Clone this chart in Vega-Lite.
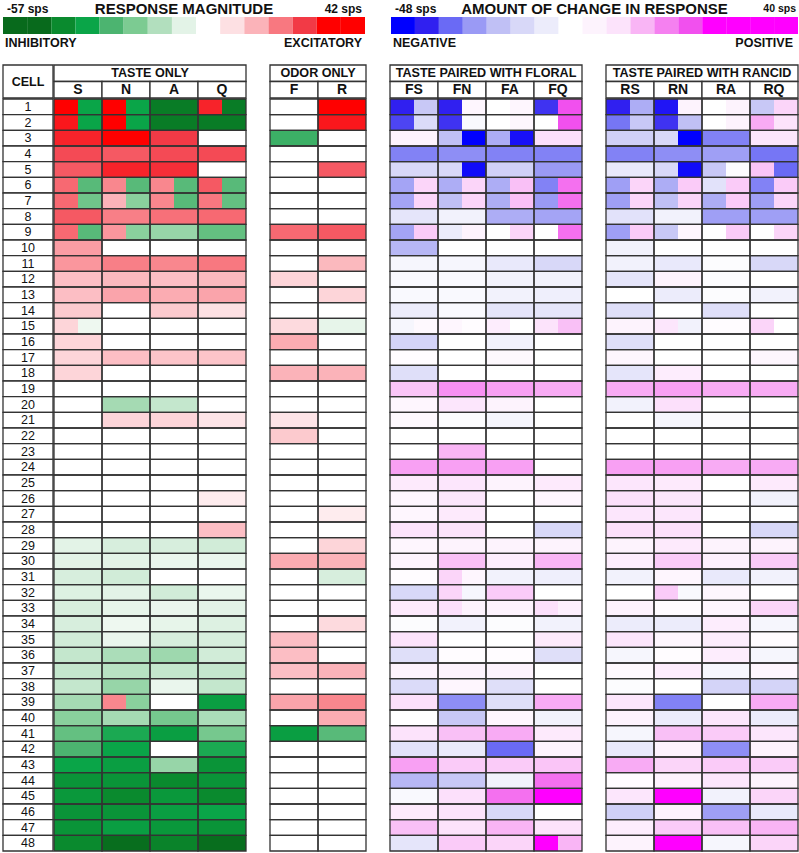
{
"$schema":"https://vega.github.io/schema/vega-lite/v6.json",
"padding":{"left":2,"top":0,"right":0,"bottom":0},
"background":"white",
"spacing":13,
"config":{"view":{"stroke":null},"font":"Liberation Sans","text":{"font":"Liberation Sans","fill":"#111"}},
"resolve":{"scale":{"color":"independent","xOffset":"independent","x":"independent","y":"independent"}},
"datasets":{
"solo":[
{"c":1,"k":"S","a":42,"b":-40},{"c":1,"k":"N","a":42,"b":-40},{"c":1,"k":"A","a":-52,"b":-52},{"c":1,"k":"Q","a":36,"b":-52},{"c":1,"k":"F","a":0,"b":0},{"c":1,"k":"R","a":42,"b":42},
{"c":2,"k":"S","a":38,"b":-40},{"c":2,"k":"N","a":42,"b":-40},{"c":2,"k":"A","a":-52,"b":-52},{"c":2,"k":"Q","a":-52,"b":-52},{"c":2,"k":"F","a":0,"b":0},{"c":2,"k":"R","a":38,"b":38},
{"c":3,"k":"S","a":36,"b":36},{"c":3,"k":"N","a":42,"b":42},{"c":3,"k":"A","a":32,"b":32},{"c":3,"k":"Q","a":0,"b":0},{"c":3,"k":"F","a":-34,"b":-34},{"c":3,"k":"R","a":0,"b":0},
{"c":4,"k":"S","a":30,"b":30},{"c":4,"k":"N","a":28,"b":28},{"c":4,"k":"A","a":30,"b":30},{"c":4,"k":"Q","a":30,"b":30},{"c":4,"k":"F","a":0,"b":0},{"c":4,"k":"R","a":0,"b":0},
{"c":5,"k":"S","a":28,"b":28},{"c":5,"k":"N","a":36,"b":36},{"c":5,"k":"A","a":34,"b":34},{"c":5,"k":"Q","a":0,"b":0},{"c":5,"k":"F","a":0,"b":0},{"c":5,"k":"R","a":28,"b":28},
{"c":6,"k":"S","a":26,"b":-30},{"c":6,"k":"N","a":22,"b":-30},{"c":6,"k":"A","a":22,"b":-30},{"c":6,"k":"Q","a":28,"b":-30},{"c":6,"k":"F","a":0,"b":0},{"c":6,"k":"R","a":0,"b":0},
{"c":7,"k":"S","a":26,"b":-26},{"c":7,"k":"N","a":16,"b":-22},{"c":7,"k":"A","a":22,"b":-30},{"c":7,"k":"Q","a":24,"b":-28},{"c":7,"k":"F","a":0,"b":0},{"c":7,"k":"R","a":0,"b":0},
{"c":8,"k":"S","a":28,"b":28},{"c":8,"k":"N","a":23,"b":23},{"c":8,"k":"A","a":25,"b":25},{"c":8,"k":"Q","a":26,"b":26},{"c":8,"k":"F","a":0,"b":0},{"c":8,"k":"R","a":0,"b":0},
{"c":9,"k":"S","a":26,"b":-30},{"c":9,"k":"N","a":20,"b":-22},{"c":9,"k":"A","a":-20,"b":-20},{"c":9,"k":"Q","a":-28,"b":-28},{"c":9,"k":"F","a":26,"b":26},{"c":9,"k":"R","a":28,"b":28},
{"c":10,"k":"S","a":19,"b":19},{"c":10,"k":"N","a":0,"b":0},{"c":10,"k":"A","a":0,"b":0},{"c":10,"k":"Q","a":0,"b":0},{"c":10,"k":"F","a":0,"b":0},{"c":10,"k":"R","a":0,"b":0},
{"c":11,"k":"S","a":20,"b":20},{"c":11,"k":"N","a":23,"b":23},{"c":11,"k":"A","a":22,"b":22},{"c":11,"k":"Q","a":24,"b":24},{"c":11,"k":"F","a":0,"b":0},{"c":11,"k":"R","a":15,"b":15},
{"c":12,"k":"S","a":14,"b":14},{"c":12,"k":"N","a":15,"b":15},{"c":12,"k":"A","a":14,"b":14},{"c":12,"k":"Q","a":15,"b":15},{"c":12,"k":"F","a":10,"b":10},{"c":12,"k":"R","a":0,"b":0},
{"c":13,"k":"S","a":14,"b":14},{"c":13,"k":"N","a":18,"b":18},{"c":13,"k":"A","a":17,"b":17},{"c":13,"k":"Q","a":18,"b":18},{"c":13,"k":"F","a":0,"b":0},{"c":13,"k":"R","a":10,"b":10},
{"c":14,"k":"S","a":12,"b":12},{"c":14,"k":"N","a":0,"b":0},{"c":14,"k":"A","a":12,"b":12},{"c":14,"k":"Q","a":8,"b":8},{"c":14,"k":"F","a":0,"b":0},{"c":14,"k":"R","a":0,"b":0},
{"c":15,"k":"S","a":10,"b":-5},{"c":15,"k":"N","a":0,"b":0},{"c":15,"k":"A","a":0,"b":0},{"c":15,"k":"Q","a":0,"b":0},{"c":15,"k":"F","a":9,"b":9},{"c":15,"k":"R","a":-7,"b":-7},
{"c":16,"k":"S","a":10,"b":10},{"c":16,"k":"N","a":0,"b":0},{"c":16,"k":"A","a":0,"b":0},{"c":16,"k":"Q","a":0,"b":0},{"c":16,"k":"F","a":17,"b":17},{"c":16,"k":"R","a":0,"b":0},
{"c":17,"k":"S","a":10,"b":10},{"c":17,"k":"N","a":14,"b":14},{"c":17,"k":"A","a":13,"b":13},{"c":17,"k":"Q","a":13,"b":13},{"c":17,"k":"F","a":0,"b":0},{"c":17,"k":"R","a":0,"b":0},
{"c":18,"k":"S","a":10,"b":10},{"c":18,"k":"N","a":0,"b":0},{"c":18,"k":"A","a":0,"b":0},{"c":18,"k":"Q","a":0,"b":0},{"c":18,"k":"F","a":16,"b":16},{"c":18,"k":"R","a":16,"b":16},
{"c":19,"k":"S","a":0,"b":0},{"c":19,"k":"N","a":0,"b":0},{"c":19,"k":"A","a":0,"b":0},{"c":19,"k":"Q","a":0,"b":0},{"c":19,"k":"F","a":0,"b":0},{"c":19,"k":"R","a":0,"b":0},
{"c":20,"k":"S","a":0,"b":0},{"c":20,"k":"N","a":-18,"b":-18},{"c":20,"k":"A","a":-13,"b":-13},{"c":20,"k":"Q","a":0,"b":0},{"c":20,"k":"F","a":0,"b":0},{"c":20,"k":"R","a":0,"b":0},
{"c":21,"k":"S","a":0,"b":0},{"c":21,"k":"N","a":10,"b":10},{"c":21,"k":"A","a":10,"b":10},{"c":21,"k":"Q","a":7,"b":7},{"c":21,"k":"F","a":7,"b":7},{"c":21,"k":"R","a":0,"b":0},
{"c":22,"k":"S","a":0,"b":0},{"c":22,"k":"N","a":0,"b":0},{"c":22,"k":"A","a":0,"b":0},{"c":22,"k":"Q","a":0,"b":0},{"c":22,"k":"F","a":12,"b":12},{"c":22,"k":"R","a":0,"b":0},
{"c":23,"k":"S","a":0,"b":0},{"c":23,"k":"N","a":0,"b":0},{"c":23,"k":"A","a":0,"b":0},{"c":23,"k":"Q","a":0,"b":0},{"c":23,"k":"F","a":0,"b":0},{"c":23,"k":"R","a":0,"b":0},
{"c":24,"k":"S","a":0,"b":0},{"c":24,"k":"N","a":0,"b":0},{"c":24,"k":"A","a":0,"b":0},{"c":24,"k":"Q","a":0,"b":0},{"c":24,"k":"F","a":0,"b":0},{"c":24,"k":"R","a":0,"b":0},
{"c":25,"k":"S","a":0,"b":0},{"c":25,"k":"N","a":0,"b":0},{"c":25,"k":"A","a":0,"b":0},{"c":25,"k":"Q","a":0,"b":0},{"c":25,"k":"F","a":0,"b":0},{"c":25,"k":"R","a":0,"b":0},
{"c":26,"k":"S","a":0,"b":0},{"c":26,"k":"N","a":0,"b":0},{"c":26,"k":"A","a":0,"b":0},{"c":26,"k":"Q","a":5,"b":5},{"c":26,"k":"F","a":0,"b":0},{"c":26,"k":"R","a":0,"b":0},
{"c":27,"k":"S","a":0,"b":0},{"c":27,"k":"N","a":0,"b":0},{"c":27,"k":"A","a":0,"b":0},{"c":27,"k":"Q","a":0,"b":0},{"c":27,"k":"F","a":0,"b":0},{"c":27,"k":"R","a":5,"b":5},
{"c":28,"k":"S","a":0,"b":0},{"c":28,"k":"N","a":0,"b":0},{"c":28,"k":"A","a":0,"b":0},{"c":28,"k":"Q","a":14,"b":14},{"c":28,"k":"F","a":0,"b":0},{"c":28,"k":"R","a":0,"b":0},
{"c":29,"k":"S","a":-8,"b":-8},{"c":29,"k":"N","a":-10,"b":-10},{"c":29,"k":"A","a":-10,"b":-10},{"c":29,"k":"Q","a":-11,"b":-11},{"c":29,"k":"F","a":0,"b":0},{"c":29,"k":"R","a":10,"b":10},
{"c":30,"k":"S","a":-8,"b":-8},{"c":30,"k":"N","a":-8,"b":-8},{"c":30,"k":"A","a":-6,"b":-6},{"c":30,"k":"Q","a":-6,"b":-6},{"c":30,"k":"F","a":17,"b":17},{"c":30,"k":"R","a":16,"b":16},
{"c":31,"k":"S","a":-10,"b":-10},{"c":31,"k":"N","a":-11,"b":-11},{"c":31,"k":"A","a":0,"b":0},{"c":31,"k":"Q","a":0,"b":0},{"c":31,"k":"F","a":0,"b":0},{"c":31,"k":"R","a":-10,"b":-10},
{"c":32,"k":"S","a":-9,"b":-9},{"c":32,"k":"N","a":-8,"b":-8},{"c":32,"k":"A","a":-11,"b":-11},{"c":32,"k":"Q","a":-6,"b":-6},{"c":32,"k":"F","a":0,"b":0},{"c":32,"k":"R","a":0,"b":0},
{"c":33,"k":"S","a":-10,"b":-10},{"c":33,"k":"N","a":-7,"b":-7},{"c":33,"k":"A","a":-6,"b":-6},{"c":33,"k":"Q","a":-8,"b":-8},{"c":33,"k":"F","a":0,"b":0},{"c":33,"k":"R","a":0,"b":0},
{"c":34,"k":"S","a":-10,"b":-10},{"c":34,"k":"N","a":-5,"b":-5},{"c":34,"k":"A","a":-7,"b":-7},{"c":34,"k":"Q","a":-9,"b":-9},{"c":34,"k":"F","a":0,"b":0},{"c":34,"k":"R","a":9,"b":9},
{"c":35,"k":"S","a":-11,"b":-11},{"c":35,"k":"N","a":-6,"b":-6},{"c":35,"k":"A","a":-10,"b":-10},{"c":35,"k":"Q","a":-10,"b":-10},{"c":35,"k":"F","a":14,"b":14},{"c":35,"k":"R","a":0,"b":0},
{"c":36,"k":"S","a":-13,"b":-13},{"c":36,"k":"N","a":-17,"b":-17},{"c":36,"k":"A","a":-19,"b":-19},{"c":36,"k":"Q","a":-11,"b":-11},{"c":36,"k":"F","a":14,"b":14},{"c":36,"k":"R","a":0,"b":0},
{"c":37,"k":"S","a":-13,"b":-13},{"c":37,"k":"N","a":-15,"b":-15},{"c":37,"k":"A","a":-13,"b":-13},{"c":37,"k":"Q","a":-13,"b":-13},{"c":37,"k":"F","a":14,"b":14},{"c":37,"k":"R","a":16,"b":16},
{"c":38,"k":"S","a":-13,"b":-13},{"c":38,"k":"N","a":-20,"b":-20},{"c":38,"k":"A","a":-6,"b":-6},{"c":38,"k":"Q","a":-13,"b":-13},{"c":38,"k":"F","a":0,"b":0},{"c":38,"k":"R","a":0,"b":0},
{"c":39,"k":"S","a":-18,"b":-18},{"c":39,"k":"N","a":22,"b":-22},{"c":39,"k":"A","a":0,"b":0},{"c":39,"k":"Q","a":-42,"b":-42},{"c":39,"k":"F","a":18,"b":18},{"c":39,"k":"R","a":22,"b":22},
{"c":40,"k":"S","a":-22,"b":-22},{"c":40,"k":"N","a":-18,"b":-18},{"c":40,"k":"A","a":-25,"b":-25},{"c":40,"k":"Q","a":-17,"b":-17},{"c":40,"k":"F","a":0,"b":0},{"c":40,"k":"R","a":17,"b":17},
{"c":41,"k":"S","a":-28,"b":-28},{"c":41,"k":"N","a":-38,"b":-38},{"c":41,"k":"A","a":-42,"b":-42},{"c":41,"k":"Q","a":-25,"b":-25},{"c":41,"k":"F","a":-42,"b":-42},{"c":41,"k":"R","a":-30,"b":-30},
{"c":42,"k":"S","a":-32,"b":-32},{"c":42,"k":"N","a":-40,"b":-40},{"c":42,"k":"A","a":0,"b":0},{"c":42,"k":"Q","a":-38,"b":-38},{"c":42,"k":"F","a":0,"b":0},{"c":42,"k":"R","a":0,"b":0},
{"c":43,"k":"S","a":-40,"b":-40},{"c":43,"k":"N","a":-42,"b":-42},{"c":43,"k":"A","a":-20,"b":-20},{"c":43,"k":"Q","a":-45,"b":-45},{"c":43,"k":"F","a":0,"b":0},{"c":43,"k":"R","a":0,"b":0},
{"c":44,"k":"S","a":-45,"b":-45},{"c":44,"k":"N","a":-45,"b":-45},{"c":44,"k":"A","a":-48,"b":-48},{"c":44,"k":"Q","a":-45,"b":-45},{"c":44,"k":"F","a":0,"b":0},{"c":44,"k":"R","a":0,"b":0},
{"c":45,"k":"S","a":-44,"b":-44},{"c":45,"k":"N","a":-48,"b":-48},{"c":45,"k":"A","a":-44,"b":-44},{"c":45,"k":"Q","a":-48,"b":-48},{"c":45,"k":"F","a":0,"b":0},{"c":45,"k":"R","a":0,"b":0},
{"c":46,"k":"S","a":-45,"b":-45},{"c":46,"k":"N","a":-45,"b":-45},{"c":46,"k":"A","a":-42,"b":-42},{"c":46,"k":"Q","a":-40,"b":-40},{"c":46,"k":"F","a":0,"b":0},{"c":46,"k":"R","a":0,"b":0},
{"c":47,"k":"S","a":-45,"b":-45},{"c":47,"k":"N","a":-42,"b":-42},{"c":47,"k":"A","a":-44,"b":-44},{"c":47,"k":"Q","a":-45,"b":-45},{"c":47,"k":"F","a":0,"b":0},{"c":47,"k":"R","a":0,"b":0},
{"c":48,"k":"S","a":-48,"b":-48},{"c":48,"k":"N","a":-56,"b":-56},{"c":48,"k":"A","a":-50,"b":-50},{"c":48,"k":"Q","a":-56,"b":-56},{"c":48,"k":"F","a":0,"b":0},{"c":48,"k":"R","a":0,"b":0}
],
"paired":[
{"c":1,"k":"FS","a":-42,"b":-16},{"c":1,"k":"FN","a":-42,"b":3},{"c":1,"k":"FA","a":0,"b":3},{"c":1,"k":"FQ","a":-40,"b":32},{"c":1,"k":"RS","a":-42,"b":-22},{"c":1,"k":"RN","a":-44,"b":4},{"c":1,"k":"RA","a":0,"b":4},{"c":1,"k":"RQ","a":-16,"b":12},
{"c":2,"k":"FS","a":-38,"b":-11},{"c":2,"k":"FN","a":-40,"b":-2},{"c":2,"k":"FA","a":0,"b":3},{"c":2,"k":"FQ","a":0,"b":32},{"c":2,"k":"RS","a":-32,"b":-16},{"c":2,"k":"RN","a":-40,"b":-18},{"c":2,"k":"RA","a":0,"b":4},{"c":2,"k":"RQ","a":20,"b":9},
{"c":3,"k":"FS","a":4,"b":4},{"c":3,"k":"FN","a":-18,"b":-48},{"c":3,"k":"FA","a":-22,"b":-45},{"c":3,"k":"FQ","a":10,"b":10},{"c":3,"k":"RS","a":-14,"b":-14},{"c":3,"k":"RN","a":-12,"b":-48},{"c":3,"k":"RA","a":-30,"b":-30},{"c":3,"k":"RQ","a":8,"b":8},
{"c":4,"k":"FS","a":-30,"b":-30},{"c":4,"k":"FN","a":-28,"b":-28},{"c":4,"k":"FA","a":-30,"b":-30},{"c":4,"k":"FQ","a":-30,"b":-30},{"c":4,"k":"RS","a":-30,"b":-30},{"c":4,"k":"RN","a":-28,"b":-28},{"c":4,"k":"RA","a":-25,"b":-25},{"c":4,"k":"RQ","a":-32,"b":-32},
{"c":5,"k":"FS","a":-12,"b":-12},{"c":5,"k":"FN","a":-12,"b":-46},{"c":5,"k":"FA","a":-14,"b":-14},{"c":5,"k":"FQ","a":-26,"b":-26},{"c":5,"k":"RS","a":-7,"b":-7},{"c":5,"k":"RN","a":-12,"b":-46},{"c":5,"k":"RA","a":-16,"b":-1},{"c":5,"k":"RQ","a":15,"b":-34},
{"c":6,"k":"FS","a":-24,"b":12},{"c":6,"k":"FN","a":-22,"b":12},{"c":6,"k":"FA","a":-22,"b":16},{"c":6,"k":"FQ","a":-30,"b":28},{"c":6,"k":"RS","a":-25,"b":12},{"c":6,"k":"RN","a":-22,"b":14},{"c":6,"k":"RA","a":-9,"b":14},{"c":6,"k":"RQ","a":-30,"b":14},
{"c":7,"k":"FS","a":-24,"b":12},{"c":7,"k":"FN","a":-18,"b":12},{"c":7,"k":"FA","a":-22,"b":16},{"c":7,"k":"FQ","a":-26,"b":28},{"c":7,"k":"RS","a":-25,"b":12},{"c":7,"k":"RN","a":-18,"b":12},{"c":7,"k":"RA","a":-22,"b":14},{"c":7,"k":"RQ","a":-25,"b":12},
{"c":8,"k":"FS","a":-8,"b":-8},{"c":8,"k":"FN","a":-4,"b":-4},{"c":8,"k":"FA","a":-22,"b":-22},{"c":8,"k":"FQ","a":-24,"b":-24},{"c":8,"k":"RS","a":-9,"b":-9},{"c":8,"k":"RN","a":-4,"b":-4},{"c":8,"k":"RA","a":-25,"b":-25},{"c":8,"k":"RQ","a":-25,"b":-25},
{"c":9,"k":"FS","a":-24,"b":14},{"c":9,"k":"FN","a":-6,"b":4},{"c":9,"k":"FA","a":0,"b":12},{"c":9,"k":"FQ","a":0,"b":28},{"c":9,"k":"RS","a":-25,"b":14},{"c":9,"k":"RN","a":-16,"b":3},{"c":9,"k":"RA","a":0,"b":14},{"c":9,"k":"RQ","a":0,"b":12},
{"c":10,"k":"FS","a":-20,"b":-20},{"c":10,"k":"FN","a":0,"b":0},{"c":10,"k":"FA","a":0,"b":0},{"c":10,"k":"FQ","a":0,"b":0},{"c":10,"k":"RS","a":-4,"b":-4},{"c":10,"k":"RN","a":0,"b":0},{"c":10,"k":"RA","a":0,"b":0},{"c":10,"k":"RQ","a":0,"b":0},
{"c":11,"k":"FS","a":-3,"b":-3},{"c":11,"k":"FN","a":-3,"b":-3},{"c":11,"k":"FA","a":-7,"b":-7},{"c":11,"k":"FQ","a":-12,"b":-12},{"c":11,"k":"RS","a":-4,"b":-4},{"c":11,"k":"RN","a":-7,"b":-7},{"c":11,"k":"RA","a":-1,"b":-1},{"c":11,"k":"RQ","a":-12,"b":-12},
{"c":12,"k":"FS","a":-2,"b":-2},{"c":12,"k":"FN","a":-2,"b":-2},{"c":12,"k":"FA","a":-4,"b":-4},{"c":12,"k":"FQ","a":-4,"b":-4},{"c":12,"k":"RS","a":-8,"b":-8},{"c":12,"k":"RN","a":4,"b":4},{"c":12,"k":"RA","a":-1,"b":-1},{"c":12,"k":"RQ","a":0,"b":0},
{"c":13,"k":"FS","a":-2,"b":-2},{"c":13,"k":"FN","a":-2,"b":-2},{"c":13,"k":"FA","a":-4,"b":-4},{"c":13,"k":"FQ","a":-5,"b":-5},{"c":13,"k":"RS","a":0,"b":0},{"c":13,"k":"RN","a":-6,"b":-6},{"c":13,"k":"RA","a":-1,"b":-1},{"c":13,"k":"RQ","a":-4,"b":-4},
{"c":14,"k":"FS","a":-6,"b":-6},{"c":14,"k":"FN","a":-2,"b":-2},{"c":14,"k":"FA","a":-8,"b":-8},{"c":14,"k":"FQ","a":-8,"b":-8},{"c":14,"k":"RS","a":-10,"b":-10},{"c":14,"k":"RN","a":0,"b":0},{"c":14,"k":"RA","a":-10,"b":-10},{"c":14,"k":"RQ","a":0,"b":0},
{"c":15,"k":"FS","a":-3,"b":2},{"c":15,"k":"FN","a":3,"b":1},{"c":15,"k":"FA","a":6,"b":0},{"c":15,"k":"FQ","a":9,"b":16},{"c":15,"k":"RS","a":4,"b":4},{"c":15,"k":"RN","a":8,"b":-4},{"c":15,"k":"RA","a":1,"b":1},{"c":15,"k":"RQ","a":12,"b":0},
{"c":16,"k":"FS","a":-13,"b":-13},{"c":16,"k":"FN","a":0,"b":0},{"c":16,"k":"FA","a":-4,"b":-4},{"c":16,"k":"FQ","a":0,"b":0},{"c":16,"k":"RS","a":-10,"b":-10},{"c":16,"k":"RN","a":0,"b":0},{"c":16,"k":"RA","a":0,"b":0},{"c":16,"k":"RQ","a":0,"b":0},
{"c":17,"k":"FS","a":1,"b":1},{"c":17,"k":"FN","a":0,"b":0},{"c":17,"k":"FA","a":2,"b":2},{"c":17,"k":"FQ","a":0,"b":0},{"c":17,"k":"RS","a":3,"b":3},{"c":17,"k":"RN","a":0,"b":0},{"c":17,"k":"RA","a":0,"b":0},{"c":17,"k":"RQ","a":3,"b":3},
{"c":18,"k":"FS","a":-10,"b":-10},{"c":18,"k":"FN","a":0,"b":0},{"c":18,"k":"FA","a":0,"b":0},{"c":18,"k":"FQ","a":0,"b":0},{"c":18,"k":"RS","a":-8,"b":-8},{"c":18,"k":"RN","a":6,"b":6},{"c":18,"k":"RA","a":0,"b":0},{"c":18,"k":"RQ","a":0,"b":0},
{"c":19,"k":"FS","a":15,"b":15},{"c":19,"k":"FN","a":24,"b":24},{"c":19,"k":"FA","a":22,"b":22},{"c":19,"k":"FQ","a":20,"b":20},{"c":19,"k":"RS","a":20,"b":20},{"c":19,"k":"RN","a":22,"b":22},{"c":19,"k":"RA","a":20,"b":20},{"c":19,"k":"RQ","a":20,"b":20},
{"c":20,"k":"FS","a":3,"b":3},{"c":20,"k":"FN","a":8,"b":8},{"c":20,"k":"FA","a":4,"b":4},{"c":20,"k":"FQ","a":0,"b":0},{"c":20,"k":"RS","a":-4,"b":-4},{"c":20,"k":"RN","a":10,"b":10},{"c":20,"k":"RA","a":0,"b":0},{"c":20,"k":"RQ","a":0,"b":0},
{"c":21,"k":"FS","a":2,"b":2},{"c":21,"k":"FN","a":-1,"b":-1},{"c":21,"k":"FA","a":-3,"b":-3},{"c":21,"k":"FQ","a":0,"b":0},{"c":21,"k":"RS","a":0,"b":0},{"c":21,"k":"RN","a":-3,"b":-3},{"c":21,"k":"RA","a":-1,"b":-1},{"c":21,"k":"RQ","a":0,"b":0},
{"c":22,"k":"FS","a":0,"b":0},{"c":22,"k":"FN","a":0,"b":0},{"c":22,"k":"FA","a":0,"b":0},{"c":22,"k":"FQ","a":0,"b":0},{"c":22,"k":"RS","a":0,"b":0},{"c":22,"k":"RN","a":0,"b":0},{"c":22,"k":"RA","a":0,"b":0},{"c":22,"k":"RQ","a":0,"b":0},
{"c":23,"k":"FS","a":0,"b":0},{"c":23,"k":"FN","a":18,"b":18},{"c":23,"k":"FA","a":0,"b":0},{"c":23,"k":"FQ","a":0,"b":0},{"c":23,"k":"RS","a":0,"b":0},{"c":23,"k":"RN","a":0,"b":0},{"c":23,"k":"RA","a":0,"b":0},{"c":23,"k":"RQ","a":0,"b":0},
{"c":24,"k":"FS","a":22,"b":22},{"c":24,"k":"FN","a":22,"b":22},{"c":24,"k":"FA","a":22,"b":22},{"c":24,"k":"FQ","a":0,"b":0},{"c":24,"k":"RS","a":22,"b":22},{"c":24,"k":"RN","a":22,"b":22},{"c":24,"k":"RA","a":20,"b":20},{"c":24,"k":"RQ","a":20,"b":20},
{"c":25,"k":"FS","a":7,"b":7},{"c":25,"k":"FN","a":8,"b":8},{"c":25,"k":"FA","a":4,"b":4},{"c":25,"k":"FQ","a":7,"b":7},{"c":25,"k":"RS","a":8,"b":8},{"c":25,"k":"RN","a":7,"b":7},{"c":25,"k":"RA","a":0,"b":0},{"c":25,"k":"RQ","a":7,"b":7},
{"c":26,"k":"FS","a":3,"b":3},{"c":26,"k":"FN","a":8,"b":8},{"c":26,"k":"FA","a":0,"b":0},{"c":26,"k":"FQ","a":3,"b":3},{"c":26,"k":"RS","a":10,"b":10},{"c":26,"k":"RN","a":8,"b":8},{"c":26,"k":"RA","a":0,"b":0},{"c":26,"k":"RQ","a":-4,"b":-4},
{"c":27,"k":"FS","a":3,"b":3},{"c":27,"k":"FN","a":7,"b":7},{"c":27,"k":"FA","a":0,"b":0},{"c":27,"k":"FQ","a":0,"b":0},{"c":27,"k":"RS","a":8,"b":8},{"c":27,"k":"RN","a":8,"b":8},{"c":27,"k":"RA","a":0,"b":0},{"c":27,"k":"RQ","a":0,"b":0},
{"c":28,"k":"FS","a":9,"b":9},{"c":28,"k":"FN","a":9,"b":9},{"c":28,"k":"FA","a":0,"b":0},{"c":28,"k":"FQ","a":-12,"b":-12},{"c":28,"k":"RS","a":10,"b":10},{"c":28,"k":"RN","a":10,"b":10},{"c":28,"k":"RA","a":0,"b":0},{"c":28,"k":"RQ","a":-12,"b":-12},
{"c":29,"k":"FS","a":3,"b":3},{"c":29,"k":"FN","a":4,"b":4},{"c":29,"k":"FA","a":4,"b":4},{"c":29,"k":"FQ","a":4,"b":4},{"c":29,"k":"RS","a":4,"b":4},{"c":29,"k":"RN","a":7,"b":7},{"c":29,"k":"RA","a":4,"b":4},{"c":29,"k":"RQ","a":4,"b":4},
{"c":30,"k":"FS","a":4,"b":4},{"c":30,"k":"FN","a":16,"b":16},{"c":30,"k":"FA","a":6,"b":6},{"c":30,"k":"FQ","a":18,"b":18},{"c":30,"k":"RS","a":6,"b":6},{"c":30,"k":"RN","a":14,"b":14},{"c":30,"k":"RA","a":5,"b":5},{"c":30,"k":"RQ","a":14,"b":14},
{"c":31,"k":"FS","a":1,"b":1},{"c":31,"k":"FN","a":12,"b":3},{"c":31,"k":"FA","a":-4,"b":-4},{"c":31,"k":"FQ","a":-5,"b":-5},{"c":31,"k":"RS","a":-4,"b":-4},{"c":31,"k":"RN","a":3,"b":3},{"c":31,"k":"RA","a":-7,"b":-7},{"c":31,"k":"RQ","a":-4,"b":-4},
{"c":32,"k":"FS","a":-12,"b":-12},{"c":32,"k":"FN","a":12,"b":-3},{"c":32,"k":"FA","a":14,"b":14},{"c":32,"k":"FQ","a":0,"b":0},{"c":32,"k":"RS","a":0,"b":0},{"c":32,"k":"RN","a":14,"b":-2},{"c":32,"k":"RA","a":3,"b":3},{"c":32,"k":"RQ","a":0,"b":0},
{"c":33,"k":"FS","a":7,"b":7},{"c":33,"k":"FN","a":10,"b":4},{"c":33,"k":"FA","a":4,"b":4},{"c":33,"k":"FQ","a":10,"b":5},{"c":33,"k":"RS","a":4,"b":4},{"c":33,"k":"RN","a":1,"b":1},{"c":33,"k":"RA","a":3,"b":3},{"c":33,"k":"RQ","a":12,"b":12},
{"c":34,"k":"FS","a":-1,"b":-1},{"c":34,"k":"FN","a":-4,"b":-4},{"c":34,"k":"FA","a":-1,"b":-1},{"c":34,"k":"FQ","a":-4,"b":-4},{"c":34,"k":"RS","a":-6,"b":-6},{"c":34,"k":"RN","a":-6,"b":-6},{"c":34,"k":"RA","a":6,"b":6},{"c":34,"k":"RQ","a":-3,"b":-3},
{"c":35,"k":"FS","a":9,"b":9},{"c":35,"k":"FN","a":0,"b":0},{"c":35,"k":"FA","a":0,"b":0},{"c":35,"k":"FQ","a":7,"b":7},{"c":35,"k":"RS","a":8,"b":8},{"c":35,"k":"RN","a":3,"b":3},{"c":35,"k":"RA","a":6,"b":6},{"c":35,"k":"RQ","a":1,"b":1},
{"c":36,"k":"FS","a":-10,"b":-10},{"c":36,"k":"FN","a":1,"b":1},{"c":36,"k":"FA","a":1,"b":1},{"c":36,"k":"FQ","a":-10,"b":-10},{"c":36,"k":"RS","a":-3,"b":-3},{"c":36,"k":"RN","a":1,"b":1},{"c":36,"k":"RA","a":6,"b":6},{"c":36,"k":"RQ","a":-3,"b":-3},
{"c":37,"k":"FS","a":4,"b":4},{"c":37,"k":"FN","a":4,"b":4},{"c":37,"k":"FA","a":4,"b":4},{"c":37,"k":"FQ","a":0,"b":0},{"c":37,"k":"RS","a":2,"b":2},{"c":37,"k":"RN","a":6,"b":6},{"c":37,"k":"RA","a":-3,"b":-3},{"c":37,"k":"RQ","a":3,"b":3},
{"c":38,"k":"FS","a":-11,"b":-11},{"c":38,"k":"FN","a":3,"b":3},{"c":38,"k":"FA","a":-10,"b":-10},{"c":38,"k":"FQ","a":0,"b":0},{"c":38,"k":"RS","a":-1,"b":-1},{"c":38,"k":"RN","a":0,"b":0},{"c":38,"k":"RA","a":-13,"b":-13},{"c":38,"k":"RQ","a":-13,"b":-13},
{"c":39,"k":"FS","a":10,"b":10},{"c":39,"k":"FN","a":-28,"b":-28},{"c":39,"k":"FA","a":-10,"b":-10},{"c":39,"k":"FQ","a":20,"b":20},{"c":39,"k":"RS","a":8,"b":8},{"c":39,"k":"RN","a":-30,"b":-30},{"c":39,"k":"RA","a":0,"b":0},{"c":39,"k":"RQ","a":20,"b":20},
{"c":40,"k":"FS","a":0,"b":0},{"c":40,"k":"FN","a":-16,"b":-16},{"c":40,"k":"FA","a":3,"b":3},{"c":40,"k":"FQ","a":-4,"b":-4},{"c":40,"k":"RS","a":4,"b":4},{"c":40,"k":"RN","a":-6,"b":-6},{"c":40,"k":"RA","a":8,"b":8},{"c":40,"k":"RQ","a":-6,"b":-6},
{"c":41,"k":"FS","a":9,"b":9},{"c":41,"k":"FN","a":16,"b":16},{"c":41,"k":"FA","a":20,"b":20},{"c":41,"k":"FQ","a":7,"b":7},{"c":41,"k":"RS","a":-3,"b":-3},{"c":41,"k":"RN","a":16,"b":16},{"c":41,"k":"RA","a":14,"b":14},{"c":41,"k":"RQ","a":8,"b":8},
{"c":42,"k":"FS","a":-9,"b":-9},{"c":42,"k":"FN","a":-7,"b":-7},{"c":42,"k":"FA","a":-34,"b":-34},{"c":42,"k":"FQ","a":4,"b":4},{"c":42,"k":"RS","a":-7,"b":-7},{"c":42,"k":"RN","a":4,"b":4},{"c":42,"k":"RA","a":-28,"b":-28},{"c":42,"k":"RQ","a":4,"b":4},
{"c":43,"k":"FS","a":22,"b":22},{"c":43,"k":"FN","a":14,"b":14},{"c":43,"k":"FA","a":14,"b":14},{"c":43,"k":"FQ","a":15,"b":15},{"c":43,"k":"RS","a":20,"b":20},{"c":43,"k":"RN","a":12,"b":12},{"c":43,"k":"RA","a":14,"b":14},{"c":43,"k":"RQ","a":14,"b":14},
{"c":44,"k":"FS","a":-20,"b":-20},{"c":44,"k":"FN","a":-16,"b":-16},{"c":44,"k":"FA","a":-4,"b":-4},{"c":44,"k":"FQ","a":28,"b":28},{"c":44,"k":"RS","a":1,"b":1},{"c":44,"k":"RN","a":4,"b":4},{"c":44,"k":"RA","a":8,"b":8},{"c":44,"k":"RQ","a":4,"b":4},
{"c":45,"k":"FS","a":-2,"b":-2},{"c":45,"k":"FN","a":10,"b":10},{"c":45,"k":"FA","a":28,"b":28},{"c":45,"k":"FQ","a":40,"b":40},{"c":45,"k":"RS","a":8,"b":8},{"c":45,"k":"RN","a":40,"b":40},{"c":45,"k":"RA","a":-4,"b":-4},{"c":45,"k":"RQ","a":12,"b":12},
{"c":46,"k":"FS","a":7,"b":7},{"c":46,"k":"FN","a":9,"b":9},{"c":46,"k":"FA","a":-12,"b":-12},{"c":46,"k":"FQ","a":0,"b":0},{"c":46,"k":"RS","a":-14,"b":-14},{"c":46,"k":"RN","a":4,"b":4},{"c":46,"k":"RA","a":-25,"b":-25},{"c":46,"k":"RQ","a":-7,"b":-7},
{"c":47,"k":"FS","a":16,"b":16},{"c":47,"k":"FN","a":9,"b":9},{"c":47,"k":"FA","a":18,"b":18},{"c":47,"k":"FQ","a":9,"b":9},{"c":47,"k":"RS","a":6,"b":6},{"c":47,"k":"RN","a":14,"b":14},{"c":47,"k":"RA","a":16,"b":16},{"c":47,"k":"RQ","a":18,"b":18},
{"c":48,"k":"FS","a":-8,"b":-8},{"c":48,"k":"FN","a":14,"b":14},{"c":48,"k":"FA","a":12,"b":12},{"c":48,"k":"FQ","a":40,"b":18},{"c":48,"k":"RS","a":4,"b":4},{"c":48,"k":"RN","a":40,"b":40},{"c":48,"k":"RA","a":-3,"b":-3},{"c":48,"k":"RQ","a":12,"b":12}
]
},
"vconcat":[
{"hconcat":[
 {"width":362,"height":51,
  "data":{"values":[{"i":1,"v":-57},{"i":2,"v":-57},{"i":3,"v":-48},{"i":4,"v":-40},{"i":5,"v":-32},{"i":6,"v":-24},{"i":7,"v":-16},{"i":8,"v":-8},{"i":9,"v":0},{"i":10,"v":8},{"i":11,"v":16},{"i":12,"v":24},{"i":13,"v":32},{"i":14,"v":42},{"i":15,"v":42}]},
  "layer":[
   {"mark":{"type":"rect"},"encoding":{
     "x":{"field":"i","type":"ordinal","scale":{"paddingInner":0,"paddingOuter":0},"axis":null},
     "y":{"datum":"b","type":"nominal","scale":{"domain":["t","b","l"],"paddingInner":0,"paddingOuter":0},"axis":null},
     "color":{"field":"v","type":"quantitative","legend":null,"scale":{"type":"linear","interpolate":"rgb","clamp":true,"domain":[-57,-48,-40,-32,-24,-16,-8,0,8,16,24,32,42],"range":["#086a1c","#0a8a2e","#0aa548","#4cb470","#7ccb92","#b2dfbe","#e3f3e7","#ffffff","#fde0e3","#fbb3b9","#f87880","#f23a46","#ff0000"]}}}},
   {"data":{"values":[{}]},"mark":{"type":"text","fontWeight":"bold","fontSize":15},"encoding":{"y":{"datum":"t","type":"nominal"},"text":{"value":"RESPONSE MAGNITUDE"}}},
   {"data":{"values":[{}]},"mark":{"type":"text","fontWeight":"bold","fontSize":12,"align":"left","dx":4},"encoding":{"x":{"datum":1,"type":"ordinal","bandPosition":0},"y":{"datum":"t","type":"nominal"},"text":{"value":"-57 sps"}}},
   {"data":{"values":[{}]},"mark":{"type":"text","fontWeight":"bold","fontSize":12,"align":"right","dx":-3},"encoding":{"x":{"datum":15,"type":"ordinal","bandPosition":1},"y":{"datum":"t","type":"nominal"},"text":{"value":"42 sps"}}},
   {"data":{"values":[{}]},"mark":{"type":"text","fontWeight":"bold","fontSize":12.5,"align":"left","dx":2},"encoding":{"x":{"datum":1,"type":"ordinal","bandPosition":0},"y":{"datum":"l","type":"nominal"},"text":{"value":"INHIBITORY"}}},
   {"data":{"values":[{}]},"mark":{"type":"text","fontWeight":"bold","fontSize":12.5,"align":"right","dx":-3},"encoding":{"x":{"datum":15,"type":"ordinal","bandPosition":1},"y":{"datum":"l","type":"nominal"},"text":{"value":"EXCITATORY"}}}
  ]},
 {"width":407,"height":51,
  "data":{"values":[{"i":1,"v":-48},{"i":2,"v":-42},{"i":3,"v":-34},{"i":4,"v":-26},{"i":5,"v":-18},{"i":6,"v":-12},{"i":7,"v":-6},{"i":8,"v":0},{"i":9,"v":4},{"i":10,"v":9},{"i":11,"v":18},{"i":12,"v":26},{"i":13,"v":32},{"i":14,"v":40},{"i":15,"v":40},{"i":16,"v":40},{"i":17,"v":40}]},
  "layer":[
   {"mark":{"type":"rect"},"encoding":{
     "x":{"field":"i","type":"ordinal","scale":{"paddingInner":0,"paddingOuter":0},"axis":null},
     "y":{"datum":"b","type":"nominal","scale":{"domain":["t","b","l"],"paddingInner":0,"paddingOuter":0},"axis":null},
     "color":{"field":"v","type":"quantitative","legend":null,"scale":{"type":"linear","interpolate":"rgb","clamp":true,"domain":[-48,-42,-34,-26,-18,-12,-6,0,5,10,16,22,28,34,40],"range":["#0000ff","#3020f0","#6a6af5","#9a9af5","#c0c0f5","#d8d8f8","#ececfb","#ffffff","#fdf0fd","#fce0fb","#f9c0f6","#f8a0f3","#f470ef","#f040ee","#ff00ff"]}}}},
   {"data":{"values":[{}]},"mark":{"type":"text","fontWeight":"bold","fontSize":15},"encoding":{"y":{"datum":"t","type":"nominal"},"text":{"value":"AMOUNT OF CHANGE IN RESPONSE"}}},
   {"data":{"values":[{}]},"mark":{"type":"text","fontWeight":"bold","fontSize":12,"align":"left","dx":4},"encoding":{"x":{"datum":1,"type":"ordinal","bandPosition":0},"y":{"datum":"t","type":"nominal"},"text":{"value":"-48 sps"}}},
   {"data":{"values":[{}]},"mark":{"type":"text","fontWeight":"bold","fontSize":10.5,"align":"right","dx":-2},"encoding":{"x":{"datum":17,"type":"ordinal","bandPosition":1},"y":{"datum":"t","type":"nominal"},"text":{"value":"40 sps"}}},
   {"data":{"values":[{}]},"mark":{"type":"text","fontWeight":"bold","fontSize":12.5,"align":"left","dx":2},"encoding":{"x":{"datum":1,"type":"ordinal","bandPosition":0},"y":{"datum":"l","type":"nominal"},"text":{"value":"NEGATIVE"}}},
   {"data":{"values":[{}]},"mark":{"type":"text","fontWeight":"bold","fontSize":12.5,"align":"right","dx":-5},"encoding":{"x":{"datum":17,"type":"ordinal","bandPosition":1},"y":{"datum":"l","type":"nominal"},"text":{"value":"POSITIVE"}}}
  ]}
 ],"spacing":26,"resolve":{"scale":{"color":"independent","x":"independent","y":"independent"}}},
{"vconcat":[
 {"hconcat":[
  {"hconcat":[
   {"width":50,"height":33,"data":{"values":[{"t":"CELL"}]},
    "layer":[
     {"mark":{"type":"rect","fill":"white","stroke":"#333","strokeWidth":1.3},"encoding":{}},
     {"mark":{"type":"text","fontWeight":"bold","fontSize":12.5},"encoding":{"text":{"field":"t"}}}
    ]},
   {"width":192,"height":33,
    "layer":[
     {"data":{"values":[{"r":"g","t":"TASTE ONLY"}]},"mark":{"type":"rect","fill":"white","stroke":"#333","strokeWidth":1.3},"encoding":{"y":{"field":"r","type":"nominal","scale":{"domain":["g","h"],"paddingInner":0,"paddingOuter":0},"axis":null}}},
     {"data":{"values":[{"r":"g","t":"TASTE ONLY"}]},"mark":{"type":"text","fontWeight":"bold","fontSize":12.6},"encoding":{"y":{"field":"r","type":"nominal"},"text":{"field":"t"}}},
     {"data":{"values":[{"r":"h","t":"S"},{"r":"h","t":"N"},{"r":"h","t":"A"},{"r":"h","t":"Q"}]},"mark":{"type":"rect","fill":"white","stroke":"#333","strokeWidth":1.3},"encoding":{"x":{"field":"t","type":"nominal","scale":{"domain":["S","N","A","Q"],"paddingInner":0,"paddingOuter":0},"axis":null},"y":{"field":"r","type":"nominal"}}},
     {"data":{"values":[{"r":"h","t":"S"},{"r":"h","t":"N"},{"r":"h","t":"A"},{"r":"h","t":"Q"}]},"mark":{"type":"text","fontWeight":"bold","fontSize":14},"encoding":{"x":{"field":"t","type":"nominal"},"y":{"field":"r","type":"nominal"},"text":{"field":"t"}}}
    ]}
  ],"spacing":-1},
  {"width":96,"height":33,
   "layer":[
    {"data":{"values":[{"r":"g","t":"ODOR ONLY"}]},"mark":{"type":"rect","fill":"white","stroke":"#333","strokeWidth":1.3},"encoding":{"y":{"field":"r","type":"nominal","scale":{"domain":["g","h"],"paddingInner":0,"paddingOuter":0},"axis":null}}},
    {"data":{"values":[{"r":"g","t":"ODOR ONLY"}]},"mark":{"type":"text","fontWeight":"bold","fontSize":12.6},"encoding":{"y":{"field":"r","type":"nominal"},"text":{"field":"t"}}},
    {"data":{"values":[{"r":"h","t":"F"},{"r":"h","t":"R"}]},"mark":{"type":"rect","fill":"white","stroke":"#333","strokeWidth":1.3},"encoding":{"x":{"field":"t","type":"nominal","scale":{"domain":["F","R"],"paddingInner":0,"paddingOuter":0},"axis":null},"y":{"field":"r","type":"nominal"}}},
    {"data":{"values":[{"r":"h","t":"F"},{"r":"h","t":"R"}]},"mark":{"type":"text","fontWeight":"bold","fontSize":14},"encoding":{"x":{"field":"t","type":"nominal"},"y":{"field":"r","type":"nominal"},"text":{"field":"t"}}}
   ]},
  {"width":192,"height":33,
   "layer":[
    {"data":{"values":[{"r":"g","t":"TASTE PAIRED WITH FLORAL"}]},"mark":{"type":"rect","fill":"white","stroke":"#333","strokeWidth":1.3},"encoding":{"y":{"field":"r","type":"nominal","scale":{"domain":["g","h"],"paddingInner":0,"paddingOuter":0},"axis":null}}},
    {"data":{"values":[{"r":"g","t":"TASTE PAIRED WITH FLORAL"}]},"mark":{"type":"text","fontWeight":"bold","fontSize":12.6},"encoding":{"y":{"field":"r","type":"nominal"},"text":{"field":"t"}}},
    {"data":{"values":[{"r":"h","t":"FS"},{"r":"h","t":"FN"},{"r":"h","t":"FA"},{"r":"h","t":"FQ"}]},"mark":{"type":"rect","fill":"white","stroke":"#333","strokeWidth":1.3},"encoding":{"x":{"field":"t","type":"nominal","scale":{"domain":["FS","FN","FA","FQ"],"paddingInner":0,"paddingOuter":0},"axis":null},"y":{"field":"r","type":"nominal"}}},
    {"data":{"values":[{"r":"h","t":"FS"},{"r":"h","t":"FN"},{"r":"h","t":"FA"},{"r":"h","t":"FQ"}]},"mark":{"type":"text","fontWeight":"bold","fontSize":14},"encoding":{"x":{"field":"t","type":"nominal"},"y":{"field":"r","type":"nominal"},"text":{"field":"t"}}}
   ]},
  {"width":192,"height":33,
   "layer":[
    {"data":{"values":[{"r":"g","t":"TASTE PAIRED WITH RANCID"}]},"mark":{"type":"rect","fill":"white","stroke":"#333","strokeWidth":1.3},"encoding":{"y":{"field":"r","type":"nominal","scale":{"domain":["g","h"],"paddingInner":0,"paddingOuter":0},"axis":null}}},
    {"data":{"values":[{"r":"g","t":"TASTE PAIRED WITH RANCID"}]},"mark":{"type":"text","fontWeight":"bold","fontSize":12.6},"encoding":{"y":{"field":"r","type":"nominal"},"text":{"field":"t"}}},
    {"data":{"values":[{"r":"h","t":"RS"},{"r":"h","t":"RN"},{"r":"h","t":"RA"},{"r":"h","t":"RQ"}]},"mark":{"type":"rect","fill":"white","stroke":"#333","strokeWidth":1.3},"encoding":{"x":{"field":"t","type":"nominal","scale":{"domain":["RS","RN","RA","RQ"],"paddingInner":0,"paddingOuter":0},"axis":null},"y":{"field":"r","type":"nominal"}}},
    {"data":{"values":[{"r":"h","t":"RS"},{"r":"h","t":"RN"},{"r":"h","t":"RA"},{"r":"h","t":"RQ"}]},"mark":{"type":"text","fontWeight":"bold","fontSize":14},"encoding":{"x":{"field":"t","type":"nominal"},"y":{"field":"r","type":"nominal"},"text":{"field":"t"}}}
   ]}
 ],"spacing":22},
 {"hconcat":[
  {"hconcat":[
   {"width":50,"height":752,"data":{"name":"solo"},"transform":[{"filter":{"field":"k","equal":"S"}}],
    "layer":[
     {"mark":{"type":"rect","fill":"white","stroke":"#333","strokeWidth":1.3},"encoding":{"y":{"field":"c","type":"ordinal","scale":{"paddingInner":0,"paddingOuter":0},"axis":null}}},
     {"mark":{"type":"text","fontSize":12.5},"encoding":{"y":{"field":"c","type":"ordinal"},"text":{"field":"c"}}}
    ]},
   {"width":192,"height":752,"data":{"name":"solo"},"transform":[{"filter":{"field":"k","oneOf":["S","N","A","Q"]}}],
    "layer":[
     {"transform":[{"fold":["a","b"],"as":["h","v"]}],"mark":{"type":"rect"},"encoding":{
       "x":{"field":"k","type":"nominal","scale":{"domain":["S","N","A","Q"],"paddingInner":0,"paddingOuter":0},"axis":null},
       "xOffset":{"field":"h","type":"nominal","scale":{"domain":["a","b"],"paddingInner":0,"paddingOuter":0}},
       "y":{"field":"c","type":"ordinal","scale":{"paddingInner":0,"paddingOuter":0},"axis":null},
       "color":{"field":"v","type":"quantitative","legend":null,"scale":{"type":"linear","interpolate":"rgb","clamp":true,"domain":[-57,-48,-40,-32,-24,-16,-8,0,8,16,24,32,42],"range":["#086a1c","#0a8a2e","#0aa548","#4cb470","#7ccb92","#b2dfbe","#e3f3e7","#ffffff","#fde0e3","#fbb3b9","#f87880","#f23a46","#ff0000"]}}}},
     {"mark":{"type":"rect","fillOpacity":0,"stroke":"#333","strokeWidth":1.3},"encoding":{"x":{"field":"k","type":"nominal"},"y":{"field":"c","type":"ordinal"}}}
    ]}
  ],"spacing":-1},
  {"width":96,"height":752,"data":{"name":"solo"},"transform":[{"filter":{"field":"k","oneOf":["F","R"]}}],
   "layer":[
    {"transform":[{"fold":["a","b"],"as":["h","v"]}],"mark":{"type":"rect"},"encoding":{
      "x":{"field":"k","type":"nominal","scale":{"domain":["F","R"],"paddingInner":0,"paddingOuter":0},"axis":null},
      "xOffset":{"field":"h","type":"nominal","scale":{"domain":["a","b"],"paddingInner":0,"paddingOuter":0}},
      "y":{"field":"c","type":"ordinal","scale":{"paddingInner":0,"paddingOuter":0},"axis":null},
      "color":{"field":"v","type":"quantitative","legend":null,"scale":{"type":"linear","interpolate":"rgb","clamp":true,"domain":[-57,-48,-40,-32,-24,-16,-8,0,8,16,24,32,42],"range":["#086a1c","#0a8a2e","#0aa548","#4cb470","#7ccb92","#b2dfbe","#e3f3e7","#ffffff","#fde0e3","#fbb3b9","#f87880","#f23a46","#ff0000"]}}}},
    {"mark":{"type":"rect","fillOpacity":0,"stroke":"#333","strokeWidth":1.3},"encoding":{"x":{"field":"k","type":"nominal"},"y":{"field":"c","type":"ordinal"}}}
   ]},
  {"width":192,"height":752,"data":{"name":"paired"},"transform":[{"filter":{"field":"k","oneOf":["FS","FN","FA","FQ"]}}],
   "layer":[
    {"transform":[{"fold":["a","b"],"as":["h","v"]}],"mark":{"type":"rect"},"encoding":{
      "x":{"field":"k","type":"nominal","scale":{"domain":["FS","FN","FA","FQ"],"paddingInner":0,"paddingOuter":0},"axis":null},
      "xOffset":{"field":"h","type":"nominal","scale":{"domain":["a","b"],"paddingInner":0,"paddingOuter":0}},
      "y":{"field":"c","type":"ordinal","scale":{"paddingInner":0,"paddingOuter":0},"axis":null},
      "color":{"field":"v","type":"quantitative","legend":null,"scale":{"type":"linear","interpolate":"rgb","clamp":true,"domain":[-48,-42,-34,-26,-18,-12,-6,0,5,10,16,22,28,34,40],"range":["#0000ff","#3020f0","#6a6af5","#9a9af5","#c0c0f5","#d8d8f8","#ececfb","#ffffff","#fdf0fd","#fce0fb","#f9c0f6","#f8a0f3","#f470ef","#f040ee","#ff00ff"]}}}},
    {"mark":{"type":"rect","fillOpacity":0,"stroke":"#333","strokeWidth":1.3},"encoding":{"x":{"field":"k","type":"nominal"},"y":{"field":"c","type":"ordinal"}}}
   ]},
  {"width":192,"height":752,"data":{"name":"paired"},"transform":[{"filter":{"field":"k","oneOf":["RS","RN","RA","RQ"]}}],
   "layer":[
    {"transform":[{"fold":["a","b"],"as":["h","v"]}],"mark":{"type":"rect"},"encoding":{
      "x":{"field":"k","type":"nominal","scale":{"domain":["RS","RN","RA","RQ"],"paddingInner":0,"paddingOuter":0},"axis":null},
      "xOffset":{"field":"h","type":"nominal","scale":{"domain":["a","b"],"paddingInner":0,"paddingOuter":0}},
      "y":{"field":"c","type":"ordinal","scale":{"paddingInner":0,"paddingOuter":0},"axis":null},
      "color":{"field":"v","type":"quantitative","legend":null,"scale":{"type":"linear","interpolate":"rgb","clamp":true,"domain":[-48,-42,-34,-26,-18,-12,-6,0,5,10,16,22,28,34,40],"range":["#0000ff","#3020f0","#6a6af5","#9a9af5","#c0c0f5","#d8d8f8","#ececfb","#ffffff","#fdf0fd","#fce0fb","#f9c0f6","#f8a0f3","#f470ef","#f040ee","#ff00ff"]}}}},
    {"mark":{"type":"rect","fillOpacity":0,"stroke":"#333","strokeWidth":1.3},"encoding":{"x":{"field":"k","type":"nominal"},"y":{"field":"c","type":"ordinal"}}}
   ]}
 ],"spacing":22,"resolve":{"scale":{"color":"independent","xOffset":"independent","x":"independent","y":"independent"}}}
],"spacing":-1.3,"resolve":{"scale":{"color":"independent","xOffset":"independent","x":"independent","y":"independent"}}}
]
}
